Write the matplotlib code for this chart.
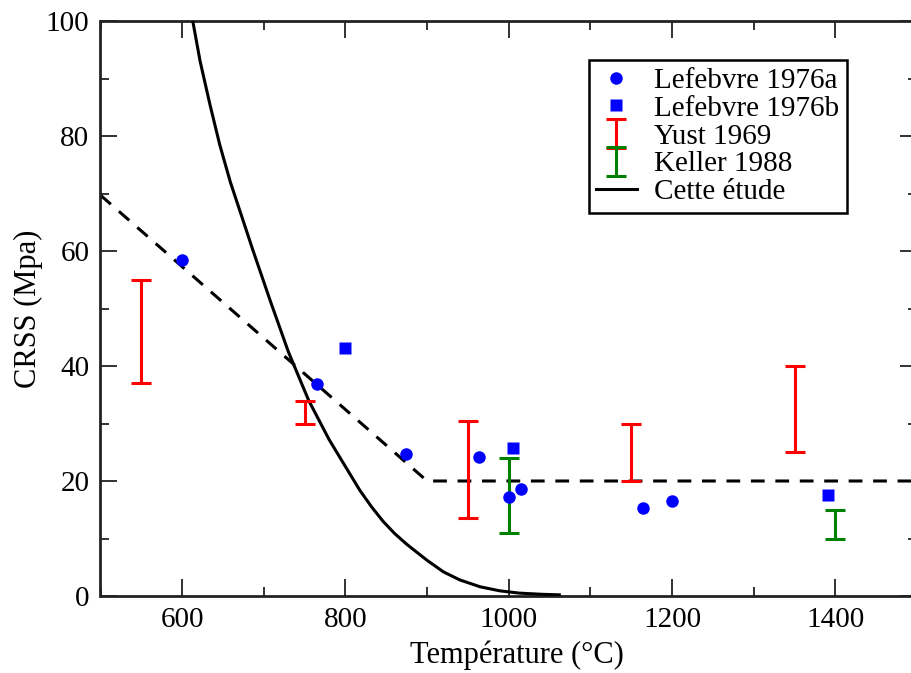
import matplotlib
matplotlib.use("Agg")
import matplotlib.pyplot as plt
from matplotlib.ticker import MultipleLocator

plt.rcParams['font.family'] = ['Liberation Serif', 'DejaVu Serif']

# Lefebvre 1976a (circles)
lef_a_T = [600, 765, 874, 964, 1000, 1015, 1165, 1200]
lef_a_tau = [58.4, 36.9, 24.7, 24.2, 17.2, 18.6, 15.3, 16.5]

# Lefebvre 1976b (squares)
lef_b_T = [800, 1005, 1391]
lef_b_tau = [43.1, 25.8, 17.6]

# Yust 1969 (ranges)
yust_T = [550, 750, 950, 1150, 1350]
yust_lo = [37.0, 30.0, 13.5, 20.0, 25.0]
yust_hi = [55.0, 34.0, 30.5, 30.0, 40.0]

# Keller 1988 (ranges)
keller_T = [1000, 1400]
keller_lo = [11.0, 10.0]
keller_hi = [24.0, 15.0]

# Cette étude (solid curve)
etude_T = [613, 622, 634, 646, 659, 673, 687, 708, 730, 755, 780, 800, 818,
           832, 846, 860, 875, 900, 920, 940, 965, 989, 1013, 1040, 1062]
etude_tau = [100, 93.0, 85.5, 78.5, 72.0, 66.0, 60.0, 51.3, 42.5, 34.0, 27.2,
             22.5, 18.3, 15.5, 13.0, 10.9, 9.0, 6.2, 4.2, 2.8, 1.6, 0.9, 0.5,
             0.3, 0.2]

# Dashed guide line
dash_T = [500, 900, 1500]
dash_tau = [69.7, 20.0, 20.0]

fig = plt.figure(figsize=(9.12, 6.73), dpi=100)
ax = fig.add_axes([100.5 / 912, 77 / 673, (917 - 100.5) / 912, (652 - 77) / 673])

ax.plot(dash_T, dash_tau, color='black', lw=2.2, ls=(0, (4.5, 3.5)), zorder=2)
ax.plot(etude_T, etude_tau, color='black', lw=2.2, label='Cette étude', zorder=3,
        solid_joinstyle='round')

ax.plot(lef_a_T, lef_a_tau, 'o', color='#0000ff', ms=9, mec='none',
        label='Lefebvre 1976a', zorder=5)
ax.plot(lef_b_T, lef_b_tau, 's', color='#0000ff', ms=9, mec='none',
        label='Lefebvre 1976b', zorder=5)

y_c = [(a + b) / 2 for a, b in zip(yust_lo, yust_hi)]
y_e = [(b - a) / 2 for a, b in zip(yust_lo, yust_hi)]
ax.errorbar(yust_T, y_c, yerr=y_e, fmt='none', ecolor='#ff0000', elinewidth=2.2,
            capsize=7.5, capthick=2.2, label='Yust 1969', zorder=4)
k_c = [(a + b) / 2 for a, b in zip(keller_lo, keller_hi)]
k_e = [(b - a) / 2 for a, b in zip(keller_lo, keller_hi)]
ax.errorbar(keller_T, k_c, yerr=k_e, fmt='none', ecolor='#008000', elinewidth=2.2,
            capsize=7.5, capthick=2.2, label='Keller 1988', zorder=4)

ax.set_xlim(500, 1500)
ax.set_ylim(0, 100)
ax.xaxis.set_major_locator(MultipleLocator(200))
ax.xaxis.set_minor_locator(MultipleLocator(100))
ax.yaxis.set_major_locator(MultipleLocator(20))
ax.yaxis.set_minor_locator(MultipleLocator(10))
ax.tick_params(which='both', direction='in', top=True, right=True, width=1.3,
               color='#222222', labelsize=21, pad=8)
ax.tick_params(which='major', length=12)
ax.tick_params(which='minor', length=6.5)
for s in ax.spines.values():
    s.set_linewidth(2.0)
    s.set_color('#222222')

ax.set_xlabel('Température (°C)', fontsize=22)
ax.xaxis.set_label_coords(0.51, -0.078)
ax.set_ylabel('CRSS (Mpa)', fontsize=22, labelpad=2)

h, l = ax.get_legend_handles_labels()
order = ['Lefebvre 1976a', 'Lefebvre 1976b', 'Yust 1969', 'Keller 1988', 'Cette étude']
hs = [h[l.index(o)] for o in order]
leg = ax.legend(hs, order, loc='upper right', bbox_to_anchor=(0.914, 0.932),
                fontsize=21, frameon=True, fancybox=False, edgecolor='black',
                framealpha=1, handlelength=1.4, handletextpad=0.6,
                borderpad=0.25, labelspacing=0.05, borderaxespad=0)
leg.get_frame().set_linewidth(1.8)

fig.savefig('out.png', dpi=100)
